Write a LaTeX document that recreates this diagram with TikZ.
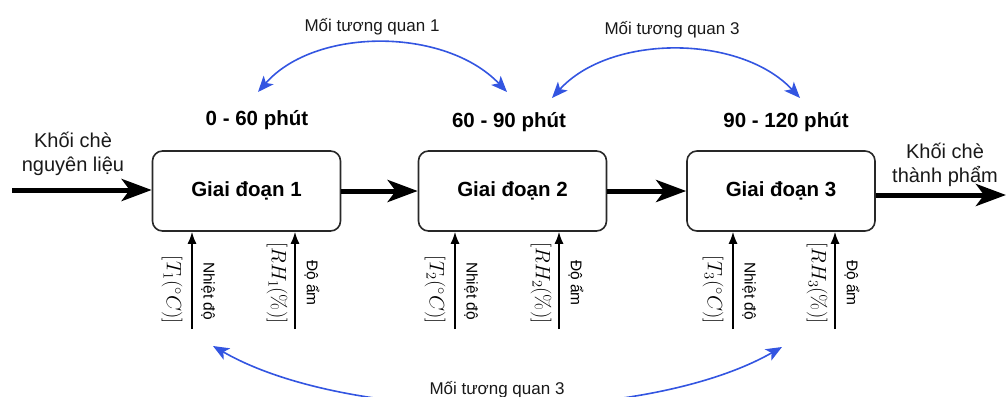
\documentclass[tikz,border=0pt]{standalone}
\usepackage[no-math]{fontspec}
\setmainfont{Liberation Sans}
\usetikzlibrary{arrows.meta}
\definecolor{bluearc}{RGB}{51,85,225}
\definecolor{boxline}{RGB}{40,40,40}
\definecolor{txt}{RGB}{25,25,25}
\begin{document}
\begin{tikzpicture}[x=1pt,y=-1pt,
  stage/.style={draw=boxline, line width=1.6pt, rounded corners=10pt,
    minimum width=188pt, minimum height=80pt, inner sep=0pt,
    font=\fontsize{20.5}{24}\selectfont\bfseries},
  period/.style={anchor=base, inner sep=0pt, font=\fontsize{20.5}{24}\selectfont\bfseries},
  flowtext/.style={align=center, inner sep=0pt, text=txt, font=\fontsize{20}{23.5}\selectfont},
  flow/.style={line width=5pt, -{Stealth[length=30pt,width=22pt,inset=8pt]}},
  sensor/.style={line width=1.5pt, -{Latex[length=12pt,width=9pt]}},
  vlabel/.style={rotate=-90, inner sep=0pt, font=\fontsize{15.5}{17}\selectfont},
  mlabel/.style={rotate=-90, inner sep=0pt, font=\fontsize{21.5}{24}\selectfont},
  corr/.style={draw=bluearc, line width=1.6pt,
    {Stealth[length=16pt,width=13pt,inset=4pt,bluearc]}-{Stealth[length=16pt,width=13pt,inset=4pt,bluearc]}},
  corrtext/.style={anchor=base, inner sep=0pt, text=txt, font=\fontsize{17}{20}\selectfont}
]
\useasboundingbox (0,0) rectangle (1006,396);

% stages
\node[stage] (g1) at (246.5,191) {Giai đoạn 1};
\node[stage] (g2) at (512.5,191) {Giai đoạn 2};
\node[stage] (g3) at (781,191) {Giai đoạn 3};

% periods
\node[period] (p1) at (257,125) {0 - 60 phút};
\node[period] (p2) at (509,127) {60 - 90 phút};
\node[period] (p3) at (786,127) {90 - 120 phút};

% input / output
\node[flowtext] (inlab) at (73,154) {Khối chè\\nguyên liệu};
\node[flowtext] (outlab) at (945,165) {Khối chè\\thành phẩm};
\coordinate (in) at (12,190);
\coordinate (out) at (1006,195);
\draw[flow] (in) -- (in -| g1.west);
\draw[flow] (g1.east) -- (g2.west);
\draw[flow] (g2.east) -- (g3.west);
\draw[flow] (out -| g3.east) -- (out);

% sensors
\foreach \g/\xt/\xh/\i in {g1/192/295/1, g2/455/559/2, g3/733/835/3}{
  \coordinate (t\i) at (\xt,329);
  \coordinate (h\i) at (\xh,329);
  \draw[sensor] (t\i) -- (t\i |- \g.south);
  \draw[sensor] (h\i) -- (h\i |- \g.south);
  \node[mlabel] (tl\i) at (\xt-20,290) {$[T_\i(^\circ C)]$};
  \node[vlabel] (tn\i) at (\xt+16,291) {Nhiệt độ};
  \node[mlabel] (hl\i) at (\xh-18,283) {$[RH_\i(\%)]$};
  \node[vlabel] (hn\i) at (\xh+17,283) {Độ ẩm};
}

% correlations
\coordinate (a1) at (258,92);
\coordinate (a2) at (507,92);
\coordinate (b1) at (552,98);
\coordinate (b2) at (800,98);
\coordinate (c1) at (213,346);
\coordinate (c2) at (782,347);
\draw[corr] (a1) .. controls (315,27) and (445,27) .. (a2);
\draw[corr] (b1) .. controls (610,34) and (740,34) .. (b2);
\draw[corr] (c1) .. controls (350,425) and (645,425) .. (c2);
\node[corrtext] (k1) at (372,32) {Mối tương quan 1};
\node[corrtext] (k2) at (672,35) {Mối tương quan 3};
\node[corrtext, fill=white, inner sep=2pt] (k3) at (497,394) {Mối tương quan 3};
\end{tikzpicture}
\end{document}
